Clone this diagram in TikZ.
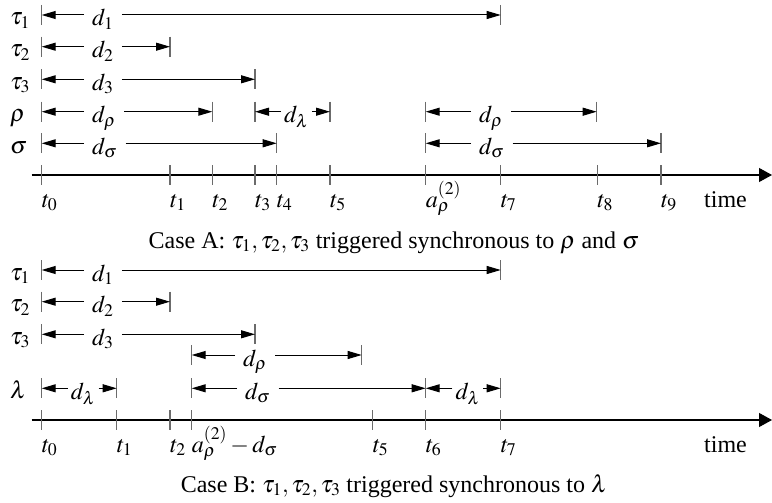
\documentclass[tikz,border=0pt]{standalone}
\usepackage{mathptmx}
\usepackage{fontspec}
\setmainfont{Liberation Serif}
\usetikzlibrary{arrows.meta}
\definecolor{barcol}{rgb}{0.42,0.42,0.42}
\tikzset{
  every node/.style={font=\fontsize{24}{28}\selectfont, inner sep=0pt},
  dlabel/.style={inner xsep=8pt, inner ysep=0pt},
  bar/.style={draw=barcol, line width=1.2pt},
  dimarrow/.style={-{Triangle[length=14pt,width=8pt]}, line width=1pt},
  axisline/.style={-{Triangle[length=13pt,width=14pt]}, line width=1.1pt},
  ticklabel/.style={anchor=base west},
  rowlabel/.style={anchor=base west},
}
% #1 node options, #2 name, #3 x1, #4 x2, #5 y, #6 label left x, #7 label
\newcommand{\dimrow}[7][]{%
  \coordinate (#2l) at (#3,#5);
  \coordinate (#2r) at (#4,#5);
  \node[dlabel, anchor=base west, #1] (#2d) at (#6,#5+11) {$#7$};
  \draw[bar] (#2l) ++(0,-10) -- ++(0,20);
  \draw[bar] (#2r) ++(0,-10) -- ++(0,20);
  \draw[dimarrow] (#2d.west |- #2l) -- (#2l);
  \draw[dimarrow] (#2d.east |- #2r) -- (#2r);
}
% #1 name, #2 x, #3 axis y, #4 label
\newcommand{\tickat}[4]{%
  \coordinate (#1) at (#2,#3);
  \draw[bar] (#1) ++(0,-10) -- ++(0,20);
  \node[ticklabel] (#1t) at (#2,#3+32) {$#4$};
}
\begin{document}
\begin{tikzpicture}[x=1pt,y=-1pt]
\useasboundingbox (0,0) rectangle (772,503);

% ---------------- Case A ----------------
\node[rowlabel] (rA1) at (10,25) {$\tau_1$};
\node[rowlabel] (rA2) at (10,56.7) {$\tau_2$};
\node[rowlabel] (rA3) at (10,89.3) {$\tau_3$};
\node[rowlabel] (rA4) at (10,121.7) {$\rho$};
\node[rowlabel] (rA5) at (10,153.3) {$\sigma$};

\dimrow{A1}{41.7}{500.7}{15}{84}{d_1}
\dimrow{A2}{41.7}{170}{46.7}{84}{d_2}
\dimrow{A3}{41.7}{255}{79.3}{84}{d_3}
\dimrow{A4}{41.7}{212.3}{111.7}{84}{d_\rho}
\dimrow[inner xsep=3pt]{A5}{255}{330}{111.7}{281}{d_\lambda}
\dimrow{A6}{425.7}{596.7}{111.7}{471}{d_\rho}
\dimrow{A7}{41.7}{276.7}{143.3}{84}{d_\sigma}
\dimrow{A8}{425.7}{661}{143.3}{471}{d_\sigma}

\coordinate (axAs) at (31.7,175);
\coordinate (axAe) at (772,175);
\draw[axisline] (axAs) -- (axAe);
\tickat{tA0}{41.7}{175}{t_0}
\tickat{tA1}{170}{175}{t_1}
\tickat{tA2}{212.3}{175}{t_2}
\tickat{tA3}{255}{175}{t_3}
\tickat{tA4}{276.7}{175}{t_4}
\tickat{tA5}{330}{175}{t_5}
\tickat{tAa}{425.7}{175}{a_\rho^{(2)}}
\tickat{tA7}{500.7}{175}{t_7}
\tickat{tA8}{597.3}{175}{t_8}
\tickat{tA9}{661}{175}{t_9}
\node[anchor=base west] (timeA) at (704,207) {time};
\node[anchor=base] (capA) at (394,248) {Case A: $\tau_1,\tau_2,\tau_3$ triggered synchronous to $\rho$ and $\sigma$};

% ---------------- Case B ----------------
\node[rowlabel] (rB1) at (10,280) {$\tau_1$};
\node[rowlabel] (rB2) at (10,311.7) {$\tau_2$};
\node[rowlabel] (rB3) at (10,344.3) {$\tau_3$};
\node[rowlabel] (rB5) at (10,398.3) {$\lambda$};

\dimrow{B1}{41.7}{500.7}{270}{84}{d_1}
\dimrow{B2}{41.7}{170}{301.7}{84}{d_2}
\dimrow{B3}{41.7}{255}{334.3}{84}{d_3}
\dimrow{B4}{191.7}{361.7}{355}{235}{d_\rho}
\dimrow[inner xsep=3pt]{B5}{41.7}{116.7}{388.3}{67.7}{d_\lambda}
\dimrow{B6}{191.7}{425.7}{388.3}{237}{d_\sigma}
\dimrow[inner xsep=3pt]{B7}{425.7}{500.7}{388.3}{452.3}{d_\lambda}

\coordinate (axBs) at (31.7,420);
\coordinate (axBe) at (772,420);
\draw[axisline] (axBs) -- (axBe);
\tickat{tB0}{41.7}{420}{t_0}
\tickat{tB1}{116.7}{420}{t_1}
\tickat{tB2}{170}{420}{t_2}
\tickat{tBa}{191.7}{420}{a_\rho^{(2)}-d_\sigma}
\tickat{tB5}{372.7}{420}{t_5}
\tickat{tB6}{425.7}{420}{t_6}
\tickat{tB7}{500.7}{420}{t_7}
\node[anchor=base west] (timeB) at (704,452) {time};
\node[anchor=base] (capB) at (394,492) {Case B: $\tau_1,\tau_2,\tau_3$ triggered synchronous to $\lambda$};
\end{tikzpicture}
\end{document}
